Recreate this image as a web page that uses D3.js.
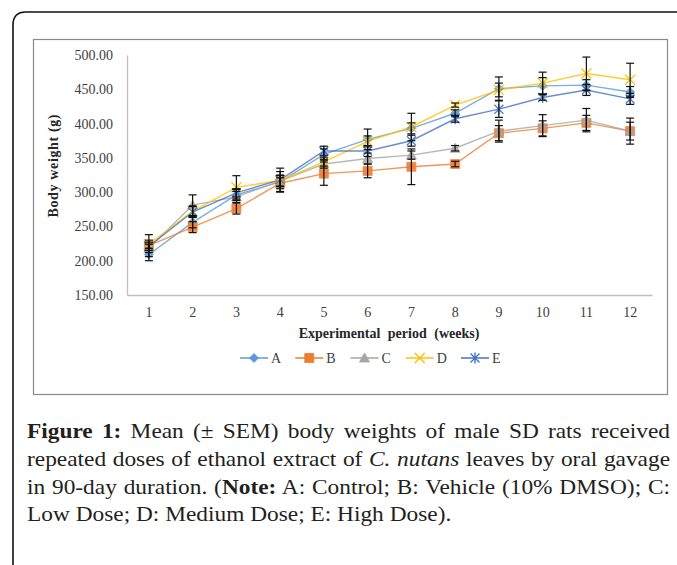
<!DOCTYPE html>
<html>
<head>
<meta charset="utf-8">
<script src="https://cdn.jsdelivr.net/npm/d3@7"></script>
<style>
body { margin: 0; background: #fff; }
svg text { font-family: "Liberation Serif", "Times New Roman", serif; }
</style>
</head>
<body>
<div id="chart"></div>
<script>
// data (weeks 1..12)
var weeks = [1, 2, 3, 4, 5, 6, 7, 8, 9, 10, 11, 12];
var seriesNames = ["A", "B", "C", "D", "E"];

var weightA = [209, 256, 296, 315, 355, 377, 393, 415, 451, 455, 456, 446];
var weightB = [222, 249, 276, 313, 327, 331, 337, 341, 386, 393, 401, 389];
var weightC = [218, 281, 293, 316, 341, 349, 354, 364, 389, 397, 405, 389];
var weightD = [224, 272, 307, 317, 344, 374, 395, 427, 449, 459, 473, 464];
var weightE = [221, 271, 299, 318, 360, 360, 375, 407, 421, 438, 449, 436];

var semA = [9, 8, 8, 15, 8, 15, 8, 5, 17, 12, 8, 8];
var semB = [16, 8, 8, 8, 17, 10, 26, 4, 11, 11, 11, 13];
var semC = [6, 15, 8, 8, 6, 8, 6, 4, 16, 16, 17, 19];
var semD = [6, 8, 17, 8, 6, 8, 20, 3, 10, 16, 24, 24];
var semE = [6, 8, 6, 17, 7, 8, 8, 5, 12, 4, 8, 8];

var yTicks = [150, 200, 250, 300, 350, 400, 450, 500];

var xTitle = "Experimental period (weeks)";
var yTitle = "Body weight (g)";

// caption lines, each a list of [text, style]
var captionLines = [
    [["Figure 1:", "bold"], [" Mean (\u00b1 SEM) body weights of male SD rats received", "normal"]],
    [["repeated doses of ethanol extract of ", "normal"], ["C. nutans", "italic"], [" leaves by oral gavage", "normal"]],
    [["in 90-day duration. (", "normal"], ["Note:", "bold"], [" A: Control; B: Vehicle (10% DMSO); C:", "normal"]],
    [["Low Dose; D: Medium Dose; E: High Dose).", "normal"]]
];

var allWeights = [weightA, weightB, weightC, weightD, weightE];
var allSem = [semA, semB, semC, semD, semE];

var colors = {A: "#5B9BD5", B: "#ED7D31", C: "#A5A5A5", D: "#FFC000", E: "#4472C4"};

var markerPath = function(name){
    var p = d3.path();
    if(name === "A"){ // diamond
        p.moveTo(0, -4.5); p.lineTo(4.5, 0); p.lineTo(0, 4.5); p.lineTo(-4.5, 0); p.closePath();
    } else if(name === "B"){ // square
        p.rect(-4.5, -4.5, 9, 9);
    } else if(name === "C"){ // triangle
        p.moveTo(0, -5); p.lineTo(5, 4); p.lineTo(-5, 4); p.closePath();
    } else if(name === "D"){ // x
        p.moveTo(-5, -5); p.lineTo(5, 5); p.moveTo(-5, 5); p.lineTo(5, -5);
    } else { // star
        p.moveTo(-4.5, -4.5); p.lineTo(4.5, 4.5); p.moveTo(-4.5, 4.5); p.lineTo(4.5, -4.5);
        p.moveTo(0, -5.5); p.lineTo(0, 5.5);
    }
    return p.toString();
};
var isStroked = function(name){ return name === "D" || name === "E"; };

var series = seriesNames.map(function(name, i){
    return {
        name: name,
        values: weeks.map(function(w, j){
            return {week: w, value: allWeights[i][j], sem: allSem[i][j]};
        })
    };
});

var svg = d3.select("#chart").append("svg")
    .attr("width", 677)
    .attr("height", 565);

// outer page frame (only top-left corner visible)
svg.append("path")
    .attr("d", "M13,570 L13,25 Q13,12 26,12 L680,12")
    .attr("fill", "none")
    .attr("stroke", "#111")
    .attr("stroke-width", 1.6);

// chart box
svg.append("rect")
    .attr("x", 33.5).attr("y", 39.5)
    .attr("width", 634).attr("height", 355)
    .attr("fill", "none")
    .attr("stroke", "#8a8a8a")
    .attr("stroke-width", 1.2);

var x = d3.scaleBand().domain(weeks).range([127, 652]);
var y = d3.scaleLinear().domain([150, 500]).range([295, 55]);
var cx = function(w){ return x(w) + x.bandwidth() / 2; };

// axes
var yAxis = d3.axisLeft(y)
    .tickValues(yTicks)
    .tickFormat(d3.format(".2f"))
    .tickSize(0)
    .tickSizeOuter(0)
    .tickPadding(14);

var gy = svg.append("g")
    .attr("transform", "translate(127,0)")
    .call(yAxis);
gy.select(".domain").attr("stroke", "#bfbfbf").attr("stroke-width", 1.3);
gy.selectAll("text")
    .attr("font-family", "Liberation Serif, serif")
    .attr("font-size", 14)
    .attr("fill", "#404040");

var xAxis = d3.axisBottom(x)
    .tickSize(0)
    .tickSizeOuter(0)
    .tickPadding(12);

var gx = svg.append("g")
    .attr("transform", "translate(0,295)")
    .call(xAxis);
gx.select(".domain").attr("stroke", "#bfbfbf").attr("stroke-width", 1.6);
gx.selectAll("text")
    .attr("font-family", "Liberation Serif, serif")
    .attr("font-size", 14)
    .attr("fill", "#404040");

// axis titles
svg.append("text")
    .attr("x", 389).attr("y", 338)
    .attr("text-anchor", "middle")
    .attr("font-size", 14)
    .attr("font-weight", "bold")
    .attr("word-spacing", 4)
    .attr("fill", "#262626")
    .text(xTitle);

svg.append("text")
    .attr("transform", "translate(58,166) rotate(-90)")
    .attr("text-anchor", "middle")
    .attr("font-size", 14)
    .attr("font-weight", "bold")
    .attr("textLength", 103)
    .attr("lengthAdjust", "spacing")
    .attr("fill", "#262626")
    .text(yTitle);

// series lines
var line = d3.line()
    .x(function(d){ return cx(d.week); })
    .y(function(d){ return y(d.value); });

svg.append("g").selectAll("path")
    .data(series)
    .enter()
    .append("path")
    .attr("d", function(d){ return line(d.values); })
    .attr("fill", "none")
    .attr("stroke", function(d){ return colors[d.name]; })
    .attr("stroke-width", 1.4)
    .attr("stroke-opacity", 0.8);

// markers
series.forEach(function(s){
    svg.append("g").selectAll("path")
        .data(s.values)
        .enter()
        .append("path")
        .attr("transform", function(d){ return "translate(" + cx(d.week) + "," + y(d.value) + ")"; })
        .attr("d", markerPath(s.name))
        .attr("fill", isStroked(s.name) ? "none" : colors[s.name])
        .attr("stroke", colors[s.name])
        .attr("stroke-width", isStroked(s.name) ? 1.4 : 0.8)
        .attr("opacity", 0.9);
});

// error bars
var eb = svg.append("g").attr("stroke", "#111").attr("stroke-width", 1.2);
series.forEach(function(s){
    s.values.forEach(function(d){
        var xc = cx(d.week);
        var top = y(d.value + d.sem), bot = y(d.value - d.sem);
        eb.append("line").attr("x1", xc).attr("x2", xc).attr("y1", top).attr("y2", bot);
        eb.append("line").attr("x1", xc - 4).attr("x2", xc + 4).attr("y1", top).attr("y2", top);
        eb.append("line").attr("x1", xc - 4).attr("x2", xc + 4).attr("y1", bot).attr("y2", bot);
    });
});

// legend
var lx = d3.scalePoint().domain(seriesNames).range([240, 461]);
var legend = svg.append("g").selectAll("g")
    .data(seriesNames)
    .enter()
    .append("g")
    .attr("transform", function(d){ return "translate(" + lx(d) + ",358)"; });

legend.append("line")
    .attr("x1", 0).attr("x2", 28)
    .attr("stroke", function(d){ return colors[d]; })
    .attr("stroke-width", 1.5);
legend.append("path")
    .attr("transform", "translate(14,0)")
    .attr("d", function(d){ return markerPath(d); })
    .attr("fill", function(d){ return isStroked(d) ? "none" : colors[d]; })
    .attr("stroke", function(d){ return colors[d]; })
    .attr("stroke-width", function(d){ return isStroked(d) ? 1.4 : 0.8; });
legend.append("text")
    .attr("x", 31)
    .attr("dy", "0.35em")
    .attr("font-size", 14)
    .attr("fill", "#404040")
    .text(function(d){ return d; });

// caption: slightly widened serif, justified through word spacing
var capScale = 1.14;
var capWidths = [643, 643, 643, null];
var cap = svg.append("g")
    .attr("transform", "translate(27,0) scale(" + capScale + ",1)");
cap.selectAll("text")
    .data(captionLines)
    .enter()
    .append("text")
    .attr("x", 0)
    .attr("y", function(d, i){ return 438 + i * 27.8; })
    .attr("font-size", 20.5)
    .attr("fill", "#231f20")
    .each(function(parts, i){
        var t = d3.select(this);
        parts.forEach(function(p){
            t.append("tspan")
                .attr("font-weight", p[1] === "bold" ? "bold" : null)
                .attr("font-style", p[1] === "italic" ? "italic" : null)
                .text(p[0]);
        });
        if(capWidths[i]){
            var full = parts.map(function(p){ return p[0]; }).join("");
            var gaps = full.split(" ").length - 1;
            var extra = capWidths[i] / capScale - this.getComputedTextLength();
            t.attr("word-spacing", extra / gaps);
        }
    });
</script>
</body>
</html>
